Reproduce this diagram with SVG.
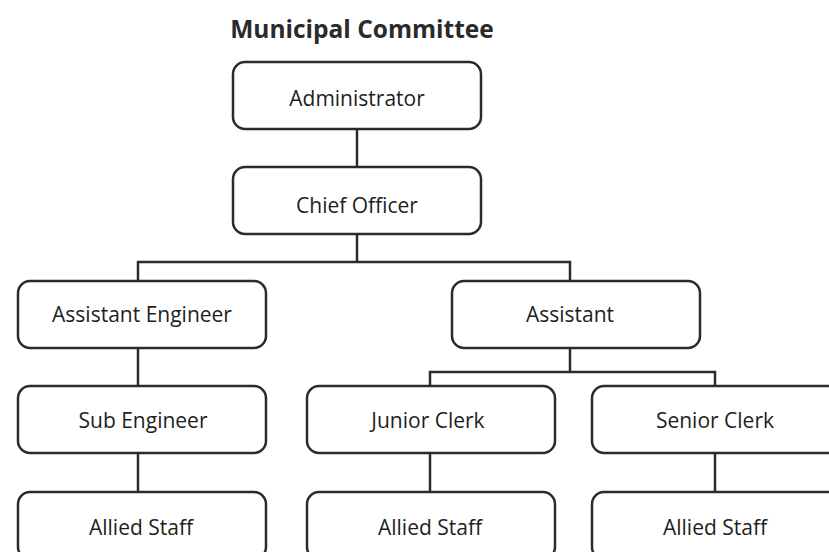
<svg xmlns="http://www.w3.org/2000/svg" width="829" height="552" viewBox="0 0 829 552">
<style>
.box{fill:#ffffff;stroke:#2b2b2b;stroke-width:2.5}
.lbl{font-family:"Open Sans","Noto Sans","Liberation Sans",sans-serif;font-size:21px;fill:#1e1e1e;text-anchor:middle}
.ttl{font-family:"Open Sans","Noto Sans","Liberation Sans",sans-serif;font-size:24.5px;font-weight:bold;fill:#2a2a2a;text-anchor:middle}
.cn{fill:none;stroke:#2b2b2b;stroke-width:2.5}
</style>
<rect x="0" y="0" width="829" height="552" fill="#ffffff"/>
<text class="ttl" x="362" y="38">Municipal Committee</text>
<g id="connectors">
<path class="cn" d="M357 129 V167"/>
<path class="cn" d="M357 234 V262 M138 281 V262 H570 V281"/>
<path class="cn" d="M138 348 V386"/>
<path class="cn" d="M138 453 V492"/>
<path class="cn" d="M570 348 V372 M430 386 V372 H715 V386"/>
<path class="cn" d="M430 453 V492"/>
<path class="cn" d="M715 453 V492"/>
</g>
<g id="administrator"><rect class="box" x="233" y="62" width="248" height="67" rx="12"/><text class="lbl" x="357" y="106">Administrator</text></g>
<g id="chief-officer"><rect class="box" x="233" y="167" width="248" height="67" rx="12"/><text class="lbl" x="357" y="213">Chief Officer</text></g>
<g id="assistant-engineer"><rect class="box" x="18" y="281" width="248" height="67" rx="12"/><text class="lbl" x="142" y="322">Assistant Engineer</text></g>
<g id="assistant"><rect class="box" x="452" y="281" width="248" height="67" rx="12"/><text class="lbl" x="570" y="322">Assistant</text></g>
<g id="sub-engineer"><rect class="box" x="18" y="386" width="248" height="67" rx="12"/><text class="lbl" x="143" y="428">Sub Engineer</text></g>
<g id="junior-clerk"><rect class="box" x="307" y="386" width="248" height="67" rx="12"/><text class="lbl" x="428" y="428">Junior Clerk</text></g>
<g id="senior-clerk"><rect class="box" x="592" y="386" width="248" height="67" rx="12"/><text class="lbl" x="715" y="428">Senior Clerk</text></g>
<g id="allied-staff-1"><rect class="box" x="18" y="492" width="248" height="67" rx="12"/><text class="lbl" x="141" y="535">Allied Staff</text></g>
<g id="allied-staff-2"><rect class="box" x="307" y="492" width="248" height="67" rx="12"/><text class="lbl" x="430" y="535">Allied Staff</text></g>
<g id="allied-staff-3"><rect class="box" x="592" y="492" width="248" height="67" rx="12"/><text class="lbl" x="715" y="535">Allied Staff</text></g>
</svg>
